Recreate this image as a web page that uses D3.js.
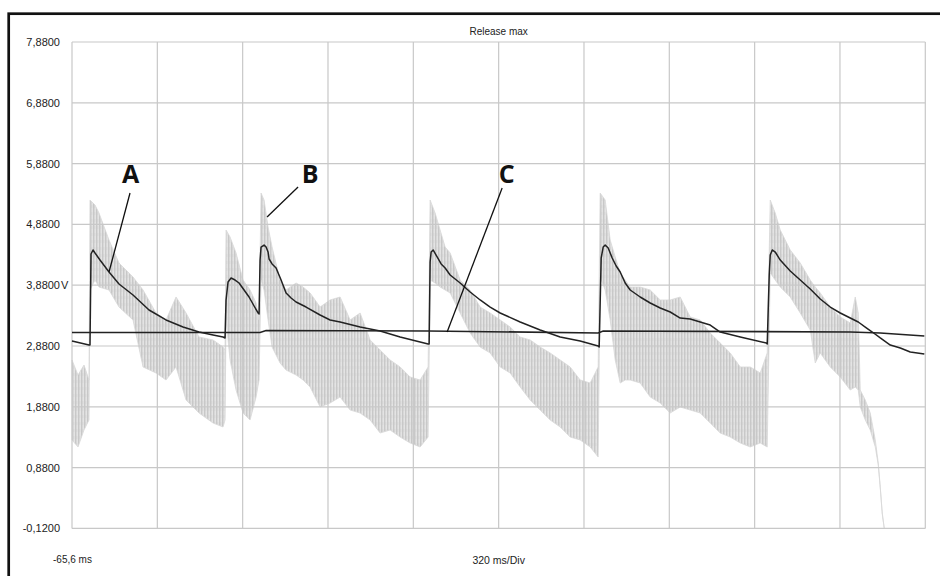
<!DOCTYPE html>
<html><head><meta charset="utf-8">
<script src="https://cdn.jsdelivr.net/npm/d3@7/dist/d3.min.js"></script>
<style>body{margin:0;background:#fff}svg{display:block}</style>
</head><body>
<svg id="c" width="940" height="576"></svg>
<script>
// ---- data ----
const title = "Release max";
const xStartLabel = "-65,6 ms";
const xDivLabel = "320 ms/Div";
const xDomain = [-65.6, 3134.4];           // ms, 10 divisions of 320 ms
const xTicks = [-65.6, 254.4, 574.4, 894.4, 1214.4, 1534.4, 1854.4, 2174.4, 2494.4, 2814.4, 3134.4];
const yTicks = [-0.12, 0.88, 1.88, 2.88, 3.88, 4.88, 5.88, 6.88, 7.88];
const yTickLabels = ["-0,1200", "0,8800", "1,8800", "2,8800", "3,8800", "4,8800", "5,8800", "6,8800", "7,8800"];
const yUnit = "V", yUnitTick = 3.88;

// A: dark trace [ms, V]
const seriesA = [
 [-65.6,2.962],[-1.8,2.896],[1.9,2.896],[5.7,4.393],[13.2,4.459],[20.7,4.410],[39.4,4.294],[73.2,4.097],
 [110.7,3.900],[163.2,3.719],[223.3,3.472],[287.0,3.308],[350.8,3.192],[410.8,3.110],[463.4,3.061],[500.9,3.028],
 [508.4,3.012],[512.1,3.637],[519.6,3.933],[530.9,3.998],[545.9,3.965],[560.9,3.916],[579.7,3.801],[598.4,3.686],
 [617.2,3.538],[632.2,3.423],[635.9,3.406],[639.7,4.294],[643.4,4.508],[654.7,4.541],[662.2,4.508],[669.7,4.426],
 [673.5,4.311],[684.7,4.229],[699.7,4.163],[718.5,3.965],[737.2,3.752],[756.0,3.669],[774.7,3.604],[812.3,3.521],
 [864.8,3.390],[902.3,3.308],[939.9,3.275],[1014.9,3.192],[1089.9,3.127],[1164.9,3.028],[1239.9,2.946],[1269.9,2.913],
 [1273.7,2.913],[1277.4,4.262],[1281.2,4.426],[1288.7,4.459],[1303.7,4.344],[1318.7,4.229],[1333.7,4.163],[1352.5,4.048],
 [1390.0,3.916],[1427.5,3.768],[1465.0,3.637],[1502.6,3.521],[1540.1,3.423],[1615.1,3.275],[1690.1,3.143],[1765.1,3.028],
 [1840.1,2.962],[1907.6,2.880],[1911.4,2.863],[1918.9,4.327],[1926.4,4.508],[1933.9,4.541],[1945.2,4.492],[1960.2,4.327],
 [1975.2,4.196],[1990.2,4.097],[2009.0,3.916],[2027.7,3.801],[2065.2,3.686],[2102.8,3.587],[2140.3,3.505],[2177.8,3.439],
 [2215.3,3.340],[2252.8,3.324],[2290.3,3.275],[2327.8,3.225],[2365.3,3.110],[2440.4,3.028],[2537.9,2.929],[2541.6,2.913],
 [2549.1,4.048],[2552.9,4.377],[2560.4,4.459],[2571.6,4.426],[2590.4,4.294],[2627.9,4.113],[2665.4,3.965],[2702.9,3.817],
 [2740.4,3.653],[2778.0,3.521],[2815.5,3.423],[2853.0,3.340],[2883.0,3.275],[2909.3,3.192],[2935.6,3.110],[2965.5,3.012],
 [3003.1,2.896],[3040.6,2.847],[3078.1,2.781],[3130.7,2.748]
];

// C: flat trace [ms, V]
const seriesC = [
 [-65.6,3.102],[639.7,3.102],[662.2,3.135],[1269.9,3.127],[1907.6,3.094],[1926.4,3.127],[2853.0,3.110],[2965.5,3.094],[3130.7,3.044]
];

// B: noisy grey trace, read as envelope [ms, low V, high V]
const seriesB = [
 [-65.6,1.334,2.650],[-43.1,1.219,2.403],[-20.6,1.498,2.567],[-1.8,1.663,2.321],[1.9,3.801,5.281],[20.7,3.965,5.199],
 [35.7,3.850,5.067],[73.2,3.801,4.623],[110.7,3.521,4.245],[163.2,3.308,4.015],[200.8,2.535,3.801],[249.5,2.436,3.423],
 [287.0,2.321,3.308],[324.6,2.535,3.686],[362.1,1.992,3.423],[410.8,1.778,3.028],[463.4,1.613,2.979],[500.9,1.548,2.863],
 [508.4,1.663,2.814],[512.1,3.308,4.788],[527.1,2.650,4.673],[549.6,2.156,4.410],[575.9,1.778,3.965],[602.2,1.663,3.801],
 [624.7,2.041,3.587],[635.9,2.321,3.308],[643.4,3.965,5.396],[654.7,3.801,5.281],[669.7,3.308,4.837],[684.7,2.863,4.508],
 [714.7,2.600,3.965],[737.2,2.485,3.801],[774.7,2.403,3.916],[801.0,2.321,3.850],[827.3,2.206,3.752],[864.8,1.877,3.521],
 [902.3,1.942,3.637],[939.9,2.041,3.686],[977.4,1.827,3.308],[1014.9,1.778,3.423],[1052.4,1.663,2.979],[1089.9,1.449,2.814],
 [1127.4,1.498,2.650],[1164.9,1.383,2.535],[1202.4,1.285,2.370],[1239.9,1.219,2.321],[1269.9,1.383,2.535],[1277.4,3.965,5.281],
 [1296.2,3.916,5.067],[1314.9,3.850,4.788],[1333.7,3.801,4.508],[1352.5,3.752,4.410],[1390.0,3.423,3.965],[1427.5,3.094,3.801],
 [1465.0,2.863,3.521],[1502.6,2.765,3.423],[1540.1,2.535,3.308],[1577.6,2.436,3.192],[1615.1,2.206,3.028],[1652.6,1.992,2.979],
 [1690.1,1.827,2.863],[1727.6,1.663,2.765],[1765.1,1.548,2.650],[1802.6,1.383,2.535],[1840.1,1.334,2.321],[1877.6,1.219,2.271],
 [1907.6,1.054,2.535],[1915.1,4.015,5.396],[1933.9,3.801,5.281],[1952.7,3.308,4.623],[1971.5,2.650,4.344],[1990.2,2.271,4.081],
 [2009.0,2.321,3.965],[2027.7,2.321,3.850],[2065.2,2.271,3.850],[2102.8,2.041,3.801],[2140.3,1.942,3.637],[2177.8,1.778,3.637],
 [2215.3,1.877,3.686],[2252.8,1.827,3.357],[2290.3,1.778,3.308],[2327.8,1.613,3.094],[2365.3,1.449,2.929],[2402.8,1.383,2.765],
 [2440.4,1.285,2.535],[2477.9,1.219,2.535],[2515.4,1.285,2.436],[2541.6,1.219,2.765],[2552.9,4.081,5.281],[2571.6,3.965,5.067],
 [2590.4,3.850,4.788],[2627.9,3.686,4.459],[2665.4,3.423,4.245],[2702.9,3.143,3.965],[2721.7,2.600,3.850],[2740.4,2.765,3.752],
 [2778.0,2.535,3.521],[2815.5,2.370,3.357],[2853.0,2.156,3.258],[2871.7,2.206,3.686],[2883.0,2.156,3.423],[2890.5,1.877,2.156],
 [2909.3,1.663,1.992],[2928.0,1.498,1.778],[2946.8,1.219,1.334],[2958.0,0.923,0.956],[2965.5,0.544,0.561],[2973.0,0.117,0.133],
 [2980.5,-0.12,-0.12]
];

// annotations: label position and leader line [ms, V]
const annotations = [
 {text:"A", at:[153.9,5.561], from:[152.0,5.397], to:[73.2,4.097]},
 {text:"B", at:[827.3,5.561], from:[782.2,5.495], to:[665.9,5.002]},
 {text:"C", at:[1564.4,5.561], from:[1547.5,5.479], to:[1341.2,3.110]}
];

// ---- drawing ----
const svg = d3.select("#c");
const x = d3.scaleLinear().domain(xDomain).range([72, 925.3]);
const y = d3.scaleLinear().domain([-0.12, 7.88]).range([528.4, 42]);

// texture for the noisy trace
const defs = svg.append("defs");
const pat = defs.append("pattern").attr("id", "noise").attr("patternUnits", "userSpaceOnUse")
  .attr("width", 3).attr("height", 7);
pat.append("rect").attr("width", 3).attr("height", 7).attr("fill", "#e4e4e4");
pat.append("rect").attr("width", 1.4).attr("height", 7).attr("fill", "#c8c8c8");
pat.append("rect").attr("x", 1.4).attr("y", 2).attr("width", 0.8).attr("height", 3).attr("fill", "#d2d2d2");

// frame
svg.append("rect").attr("x", 8.7).attr("y", 13.7).attr("width", 1000).attr("height", 700)
  .attr("fill", "none").attr("stroke", "#111").attr("stroke-width", 2.7);

// grey noisy trace (envelope)
svg.append("path").datum(seriesB)
  .attr("d", d3.area().x(d => x(d[0])).y0(d => y(d[1])).y1(d => y(d[2])))
  .attr("fill", "url(#noise)").attr("stroke", "#d8d8d8").attr("stroke-width", 0.8);

// grid
const grid = svg.append("g").attr("stroke", "#c8c8c8").attr("stroke-width", 1.2);
grid.selectAll("line.v").data(xTicks).join("line").attr("class","v")
  .attr("x1", d => x(d)).attr("x2", d => x(d)).attr("y1", y(7.88)).attr("y2", y(-0.12));
grid.selectAll("line.h").data(yTicks).join("line").attr("class","h")
  .attr("x1", x(xDomain[0])).attr("x2", x(xDomain[1])).attr("y1", d => y(d)).attr("y2", d => y(d));

// y tick labels
const font = "'Liberation Sans', Arial, sans-serif";
svg.append("g").selectAll("text").data(yTicks).join("text")
  .attr("x", 60).attr("y", d => y(d)).attr("dy", "0.36em")
  .attr("text-anchor", "end").attr("font-family", font).attr("font-size", 11).attr("fill", "#222")
  .text((d, i) => yTickLabels[i]);
svg.append("text").attr("x", 61).attr("y", y(yUnitTick)).attr("dy", "0.36em")
  .attr("font-family", font).attr("font-size", 11).attr("fill", "#222").text(yUnit);

// other texts
svg.append("text").attr("x", (x.range()[0] + x.range()[1]) / 2).attr("y", 35)
  .attr("text-anchor", "middle").attr("font-family", font).attr("font-size", 10).attr("fill", "#222").text(title);
svg.append("text").attr("x", (x.range()[0] + x.range()[1]) / 2).attr("y", 564)
  .attr("text-anchor", "middle").attr("font-family", font).attr("font-size", 10.5).attr("fill", "#222").text(xDivLabel);
svg.append("text").attr("x", 53).attr("y", 563)
  .attr("font-family", font).attr("font-size", 10).attr("fill", "#222").text(xStartLabel);

// dark traces
const line = d3.line().x(d => x(d[0])).y(d => y(d[1]));
svg.append("path").datum(seriesC).attr("d", line)
  .attr("fill", "none").attr("stroke", "#222").attr("stroke-width", 1.6);
svg.append("path").datum(seriesA).attr("d", line)
  .attr("fill", "none").attr("stroke", "#222").attr("stroke-width", 1.5).attr("stroke-linejoin", "round");

// annotations
const ann = svg.append("g");
ann.selectAll("line").data(annotations).join("line")
  .attr("x1", d => x(d.from[0])).attr("y1", d => y(d.from[1]))
  .attr("x2", d => x(d.to[0])).attr("y2", d => y(d.to[1]))
  .attr("stroke", "#111").attr("stroke-width", 1.3);
ann.selectAll("text").data(annotations).join("text")
  .attr("x", d => x(d.at[0])).attr("y", d => y(d.at[1]))
  .attr("text-anchor", "middle").attr("font-family", "'Open Sans', sans-serif")
  .attr("font-weight", 700).attr("font-size", 25).attr("fill", "#111").text(d => d.text);
</script>
</body></html>
